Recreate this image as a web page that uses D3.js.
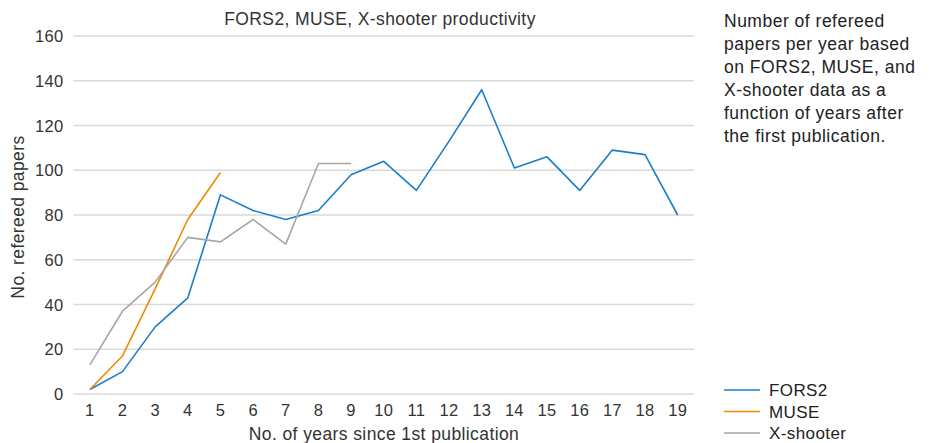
<!DOCTYPE html>
<html lang="en">
<head>
<meta charset="UTF-8">
<title>FORS2, MUSE, X-shooter productivity</title>
<script src="https://d3js.org/d3.v7.min.js"></script>
<style>
  body { margin: 0; background: #fff; }
  svg { font-family: "Liberation Sans", Arial, sans-serif; }
  .grid line { stroke: #d9d9d9; stroke-width: 1.5px; }
  .tick-label { font-size: 16.5px; fill: #333; letter-spacing: 0.3px; }
  .axis-title { font-size: 17.5px; fill: #333; letter-spacing: 0.4px; }
  .note { font-size: 17.5px; fill: #222; letter-spacing: 0.5px; }
  .legend text { font-size: 17px; fill: #222; letter-spacing: 0.4px; }
</style>
</head>
<body>
<div id="chart"></div>
<script>
const years = d3.range(1, 20);
const yTicks = [0, 20, 40, 60, 80, 100, 120, 140, 160];

const fors2 = [2, 10, 30, 43, 89, 82, 78, 82, 98, 104, 91, 113, 136, 101, 106, 91, 109, 107, 80];
const muse = [2, 17, 47, 78, 99];
const xshooter = [13, 37, 50, 70, 68, 78, 67, 103, 103];

const series = [
  {name: "FORS2", values: fors2, color: "#1a7ec8"},
  {name: "MUSE", values: muse, color: "#f08a00"},
  {name: "X-shooter", values: xshooter, color: "#a6a6a6"}
];

const noteLines = [
  "Number of refereed",
  "papers per year based",
  "on FORS2, MUSE, and",
  "X-shooter data as a",
  "function of years after",
  "the first publication."
];

const width = 935, height = 443;
const plot = {left: 73.5, right: 694, top: 36, bottom: 394};

const svg = d3.select("#chart").append("svg")
  .attr("width", width).attr("height", height);

const x = d3.scalePoint().domain(years).range([plot.left, plot.right]).padding(0.5);
const y = d3.scaleLinear().domain([0, 160]).range([plot.bottom, plot.top]);

// gridlines
svg.append("g").attr("class", "grid")
  .selectAll("line").data(yTicks).enter().append("line")
  .attr("x1", plot.left).attr("x2", plot.right)
  .attr("y1", d => y(d)).attr("y2", d => y(d));

// y tick labels
svg.append("g").selectAll("text").data(yTicks).enter().append("text")
  .attr("class", "tick-label")
  .attr("x", 63.5).attr("y", d => y(d) + 6)
  .attr("text-anchor", "end")
  .text(d => d);

// x tick labels
svg.append("g").selectAll("text").data(years).enter().append("text")
  .attr("class", "tick-label")
  .attr("x", d => x(d)).attr("y", 416)
  .attr("text-anchor", "middle")
  .text(d => d);

// lines
const line = d3.line().x((d, i) => x(years[i])).y(d => y(d));
svg.append("g").selectAll("path").data(series).enter().append("path")
  .attr("fill", "none")
  .attr("stroke", d => d.color)
  .attr("stroke-width", 1.6)
  .attr("stroke-linejoin", "round")
  .attr("d", d => line(d.values));

// titles
svg.append("text").attr("class", "axis-title")
  .attr("x", 380).attr("y", 25).attr("text-anchor", "middle")
  .text("FORS2, MUSE, X-shooter productivity");

svg.append("text").attr("class", "axis-title")
  .attr("x", 384).attr("y", 440).attr("text-anchor", "middle")
  .text("No. of years since 1st publication");

svg.append("text").attr("class", "axis-title")
  .attr("transform", `translate(24,${(plot.top + plot.bottom) / 2 + 2}) rotate(-90)`)
  .attr("text-anchor", "middle")
  .text("No. refereed papers");

// side note
svg.append("g").selectAll("text").data(noteLines).enter().append("text")
  .attr("class", "note")
  .attr("x", 724).attr("y", (d, i) => 27 + i * 23)
  .text(d => d);

// legend
const legend = svg.append("g").attr("class", "legend")
  .selectAll("g").data(series).enter().append("g")
  .attr("transform", (d, i) => `translate(724,${390 + i * 21.5})`);
legend.append("line")
  .attr("x1", 0).attr("x2", 36).attr("y1", 0).attr("y2", 0)
  .attr("stroke", d => d.color).attr("stroke-width", 1.6);
legend.append("text")
  .attr("x", 45).attr("y", 6)
  .text(d => d.name);
</script>
</body>
</html>
